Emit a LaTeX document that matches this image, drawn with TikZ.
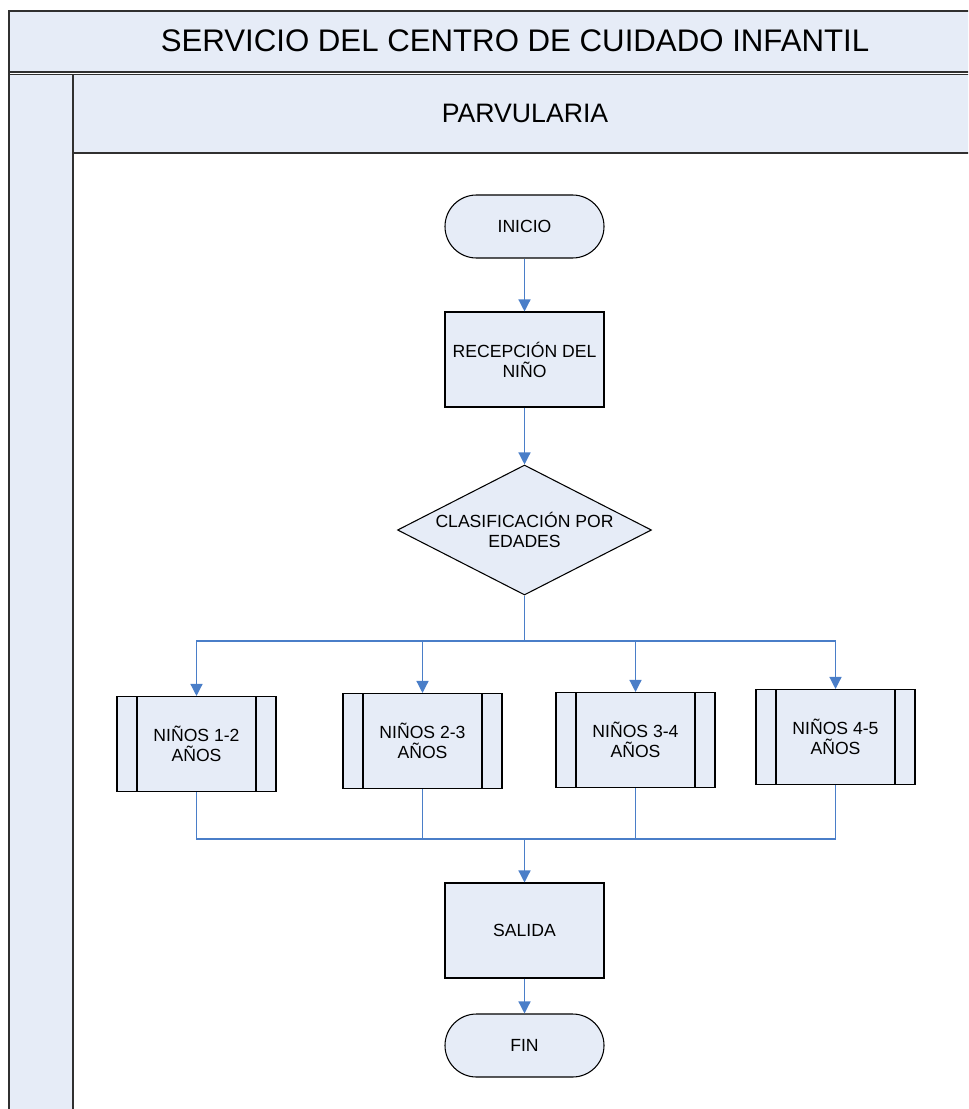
\documentclass[tikz,border=0pt]{standalone}
\usepackage{fontspec}
\setmainfont{Liberation Sans}
\usetikzlibrary{arrows.meta, shapes.geometric}
\definecolor{lanefill}{HTML}{E6ECF7}
\definecolor{flowblue}{HTML}{4A7EC8}
\definecolor{laneline}{HTML}{303030}
\tikzset{%
  box/.style={draw=black, fill=lanefill, line width=0.8pt, align=center,
              minimum width=119.25pt, minimum height=71.25pt, inner sep=2pt,
              font=\fontsize{13.2}{15}\selectfont},
  term/.style={box, minimum height=47.25pt, rounded corners=23.6pt},
  decision/.style={box, diamond, aspect=1.95, inner sep=0pt,
                   minimum width=190.5pt, minimum height=97.5pt},
  subproc/.style={box, path picture={%
      \draw[line width=0.8pt]
        ([xshift=15pt]path picture bounding box.north west) -- ([xshift=15pt]path picture bounding box.south west)
        ([xshift=-15pt]path picture bounding box.north east) -- ([xshift=-15pt]path picture bounding box.south east);}},
  conn/.style={draw=flowblue, line width=1pt},
  flow/.style={conn, -{Triangle[width=9pt,length=9pt]}},
}

\begin{document}
\begin{tikzpicture}[x=0.75pt, y=-0.75pt]
\useasboundingbox (0,0) rectangle (968,1109);
\clip (0,0) rectangle (968,1109);

% lane frame
\fill[lanefill] (9,11) rectangle (980,72);
\fill[lanefill] (9,74.5) rectangle (73,1120);
\fill[lanefill] (73,74.5) rectangle (980,153);
\draw[laneline, line width=0.8pt] (980,11) -- (9,11) -- (9,1120);
\draw[laneline, line width=0.8pt] (9,72) -- (980,72) (9,74.5) -- (980,74.5);
\draw[laneline, line width=0.8pt] (73,74.5) -- (73,1120) (73,153) -- (980,153);
\node[font=\fontsize{23.4}{28}\selectfont] (title) at (515,41) {SERVICIO DEL CENTRO DE CUIDADO INFANTIL};
\node[font=\fontsize{20}{24}\selectfont] (lane) at (525,113) {PARVULARIA};

% main flow
\node[term] (inicio) at (524.5,226.5) {INICIO};
\node[box] (recep) at (524.5,359.5) {RECEPCIÓN DEL\\NIÑO};
\node[decision] (clasif) at (524.5,530) {CLASIFICACIÓN POR\\EDADES};

% age groups
\node[subproc] (n12) at (196.5,744) {NIÑOS 1-2\\AÑOS};
\node[subproc] (n23) at (422.5,741) {NIÑOS 2-3\\AÑOS};
\node[subproc] (n34) at (635.5,740) {NIÑOS 3-4\\AÑOS};
\node[subproc] (n45) at (835.5,737) {NIÑOS 4-5\\AÑOS};

\node[box] (salida) at (524.5,930.5) {SALIDA};
\node[term] (fin) at (524.5,1045.5) {FIN};

\coordinate (split) at (524.5,641);
\coordinate (join) at (524.5,839);

% connectors
\draw[flow] (inicio) -- (recep);
\draw[flow] (recep) -- (clasif);
\draw[conn] (clasif.south) -- (split);
\draw[flow] (split) -| (n12.north);
\draw[flow] (split) -| (n23.north);
\draw[flow] (split) -| (n34.north);
\draw[flow] (split) -| (n45.north);
\draw[conn] (n12.south) |- (join);
\draw[conn] (n23.south) |- (join);
\draw[conn] (n34.south) |- (join);
\draw[conn] (n45.south) |- (join);
\draw[flow] (join) -- (salida);
\draw[flow] (salida) -- (fin);

\end{tikzpicture}
\end{document}
